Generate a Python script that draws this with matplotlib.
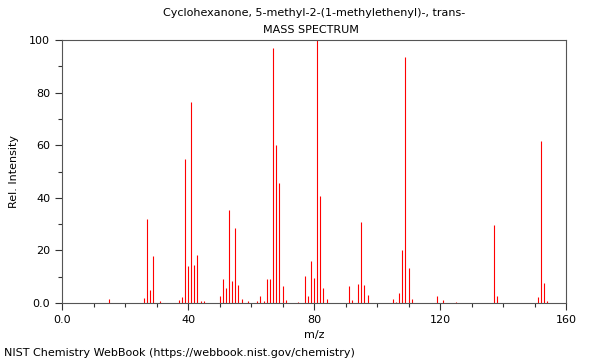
#mass spectrum, NIST webbook style
import numpy as np
import matplotlib
matplotlib.use("Agg")
import matplotlib.pyplot as plt
from matplotlib.ticker import MultipleLocator, FuncFormatter

mz = [15, 26, 27, 28, 29, 31, 37, 38, 39, 40, 41, 42, 43, 44, 45,
      50, 51, 52, 53, 54, 55, 56, 57, 59, 62, 63, 64, 65, 66, 67, 68, 69, 70, 71,
      75, 77, 78, 79, 80, 81, 82, 83, 84, 91, 92, 94, 95, 96, 97,
      105, 106, 107, 108, 109, 110, 111, 119, 121, 125, 137, 138, 151, 152, 153, 154]
intensity = [1.4, 1.8, 31.8, 5.0, 18.0, 0.8, 1.0, 2.4, 54.6, 14.0, 76.3, 14.4, 18.1, 0.7, 0.7,
             2.7, 9.0, 5.8, 35.2, 8.4, 28.4, 6.8, 1.5, 0.7, 0.7, 2.7, 0.7, 9.3, 9.3, 96.8, 60.2, 45.5, 6.3, 1.0,
             0.5, 10.3, 2.5, 16.0, 9.5, 100.0, 40.8, 5.7, 1.5, 6.5, 1.2, 7.3, 30.7, 7.0, 3.2,
             1.5, 0.5, 3.9, 20.3, 93.4, 13.3, 1.5, 2.7, 1.3, 0.4, 29.5, 2.8, 2.2, 61.6, 7.5, 0.8]

plt.rcParams['font.family'] = 'DejaVu Sans'
plt.rcParams['font.size'] = 8

fig = plt.figure(figsize=(6, 3.6), dpi=100)
ax = fig.add_axes([62/600, 1-303/360, 504/600, 263/360])

ax.vlines(mz, 0, intensity, colors='#ff0000', linewidth=0.8)

ax.set_xlim(0, 160)
ax.set_ylim(0, 100)
ax.xaxis.set_major_locator(MultipleLocator(40))
ax.xaxis.set_minor_locator(MultipleLocator(10))
ax.yaxis.set_major_locator(MultipleLocator(20))
ax.yaxis.set_minor_locator(MultipleLocator(10))
fmt = FuncFormatter(lambda v, p: "0.0" if v == 0 else f"{v:.0f}")
ax.xaxis.set_major_formatter(fmt)
ax.yaxis.set_major_formatter(fmt)
ax.tick_params(which='major', length=5, width=0.8, colors='#333333', labelcolor='black', labelsize=8)
ax.tick_params(which='minor', length=3, width=0.8, colors='#333333')
for s in ax.spines.values():
    s.set_color('#555555')
    s.set_linewidth(0.8)

ax.set_xlabel('m/z', fontsize=8)
ax.set_ylabel('Rel. Intensity', fontsize=8, labelpad=7)

fig.text(314/600, 1-13/360, 'Cyclohexanone, 5-methyl-2-(1-methylethenyl)-, trans-', ha='center', va='center', fontsize=8)
fig.text(311/600, 1-30/360, 'MASS SPECTRUM', ha='center', va='center', fontsize=8)
fig.text(4/600, 1-353/360, 'NIST Chemistry WebBook (https://webbook.nist.gov/chemistry)', ha='left', va='center', fontsize=8)

fig.savefig('out.png', dpi=100)
